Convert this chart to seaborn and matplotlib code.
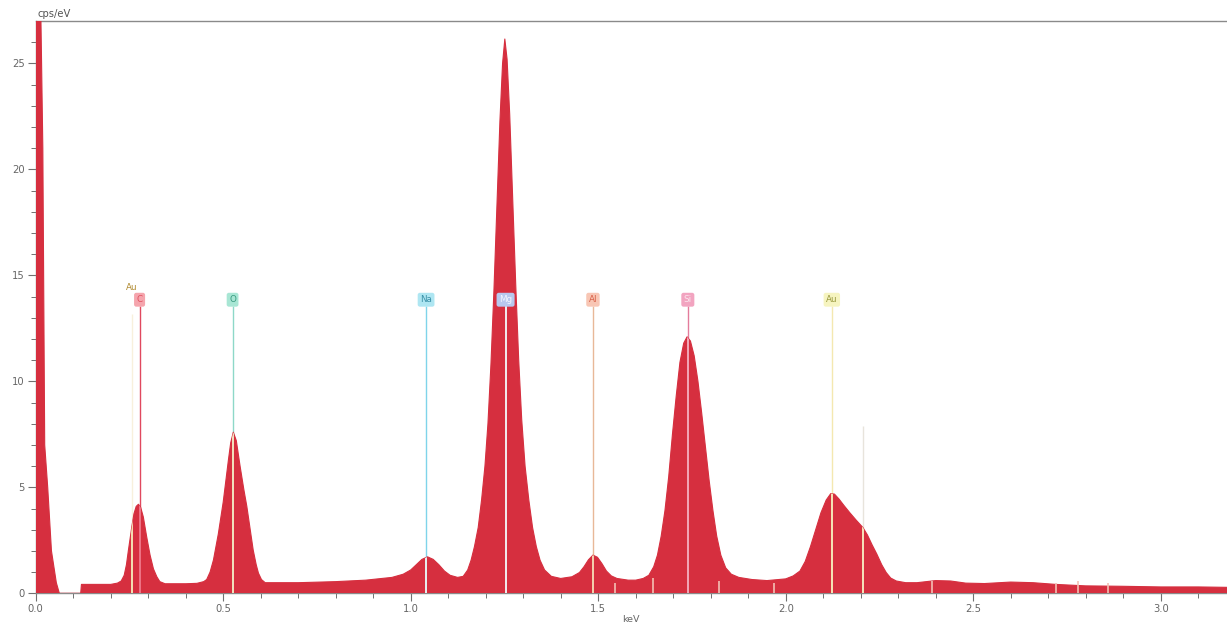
import numpy as np
import pandas as pd
import matplotlib
matplotlib.use("Agg")
import matplotlib.pyplot as plt
import seaborn as sns

# EDS spectrum: energy (keV) and intensity (cps/eV)
energy_kev = [
    # zero (noise) peak and low-energy cut-off
    0.000, 0.005, 0.014, 0.019, 0.024, 0.032, 0.042, 0.055, 0.063, 0.120,
    # C K
    0.122, 0.150, 0.200, 0.218, 0.228, 0.236, 0.242, 0.247, 0.252, 0.256,
    0.262, 0.268, 0.274, 0.280, 0.287, 0.296, 0.305, 0.314, 0.323, 0.331,
    0.345, 0.400,
    # O K
    0.430, 0.448, 0.456, 0.465, 0.474, 0.487, 0.500, 0.507, 0.514, 0.520,
    0.527, 0.535, 0.545, 0.555, 0.563, 0.572, 0.580, 0.588, 0.594, 0.602,
    0.612, 0.640, 0.700, 0.800, 0.880,
    # Na K
    0.950, 0.980, 1.000, 1.015, 1.030, 1.045, 1.060, 1.075, 1.090, 1.105,
    1.125,
    # Mg K
    1.140, 1.152, 1.161, 1.170, 1.180, 1.189, 1.198, 1.206, 1.214, 1.222,
    1.230, 1.238, 1.245, 1.251, 1.257, 1.264, 1.272, 1.280, 1.288, 1.296,
    1.305, 1.315, 1.325, 1.335, 1.345, 1.357, 1.375, 1.400,
    # Al K
    1.430, 1.450, 1.462, 1.474, 1.486, 1.498, 1.510, 1.522, 1.535, 1.550,
    1.580,
    # Si K
    1.600, 1.620, 1.635, 1.648, 1.658, 1.668, 1.678, 1.688, 1.698, 1.708,
    1.718, 1.728, 1.737, 1.746, 1.756, 1.766, 1.776, 1.786, 1.796, 1.806,
    1.816, 1.827, 1.840, 1.855, 1.875, 1.910,
    # Au M
    1.950, 2.000, 2.020, 2.038, 2.052, 2.066, 2.080, 2.094, 2.108, 2.120,
    2.130, 2.142, 2.155, 2.171, 2.188, 2.206, 2.218, 2.230, 2.243, 2.256,
    2.268, 2.280, 2.295, 2.320,
    # high-energy background
    2.350, 2.400, 2.440, 2.480, 2.530, 2.600, 2.660, 2.720, 2.800, 2.900,
    3.000, 3.100, 3.180,
]
counts_cps = [
    40.0, 40.0, 27.0, 21.0, 7.0, 5.0, 2.0, 0.5, 0.0, 0.0,
    0.42, 0.42, 0.42, 0.48, 0.58, 0.85, 1.35, 2.00, 2.60, 3.10,
    3.75, 4.10, 4.20, 4.05, 3.60, 2.66, 1.80, 1.15, 0.78, 0.55,
    0.45, 0.45,
    0.47, 0.55, 0.65, 1.00, 1.57, 2.80, 4.30, 5.30, 6.30, 7.10,
    7.60, 7.20, 6.00, 4.90, 4.10, 3.00, 2.04, 1.35, 0.95, 0.65,
    0.50, 0.50, 0.50, 0.55, 0.62,
    0.75, 0.90, 1.10, 1.35, 1.60, 1.72, 1.60, 1.35, 1.05, 0.85,
    0.75,
    0.80, 1.10, 1.56, 2.20, 3.10, 4.40, 6.00, 8.00, 10.8, 14.3,
    18.3, 22.3, 25.0, 26.15, 25.2, 22.6, 18.6, 14.6, 11.0, 8.20,
    6.00, 4.40, 3.10, 2.20, 1.56, 1.10, 0.80, 0.70,
    0.78, 0.98, 1.25, 1.58, 1.80, 1.70, 1.40, 1.05, 0.82, 0.70,
    0.62,
    0.62, 0.70, 0.85, 1.25, 1.80, 2.70, 3.90, 5.50, 7.50, 9.30,
    10.9, 11.8, 12.1, 11.9, 11.2, 10.0, 8.50, 6.90, 5.30, 3.90,
    2.70, 1.80, 1.20, 0.90, 0.75, 0.65,
    0.60, 0.68, 0.82, 1.05, 1.50, 2.20, 3.00, 3.80, 4.40, 4.70,
    4.68, 4.45, 4.15, 3.80, 3.45, 3.10, 2.75, 2.30, 1.85, 1.35,
    0.98, 0.72, 0.58, 0.50,
    0.50, 0.60, 0.58, 0.48, 0.46, 0.53, 0.50, 0.42, 0.35, 0.33,
    0.30, 0.30, 0.28,
]

# Identified element lines
line_labels = ["Au", "C", "O", "Na", "Mg", "Al", "Si", "Au"]
line_energies = [0.257, 0.277, 0.525, 1.041, 1.253, 1.486, 1.739, 2.123]
# Unlabelled Au M-beta line and its marker height
extra_line_energy = [2.205]
extra_line_height = [7.9]

# Small escape / sum-peak markers near the baseline
minor_marker_energies = [1.545, 1.646, 1.823, 1.968, 2.39, 2.72, 2.78, 2.86]
minor_marker_heights = [0.5, 0.7, 0.6, 0.5, 0.6, 0.5, 0.6, 0.5]

x_ticks = [0.0, 0.5, 1.0, 1.5, 2.0, 2.5, 3.0]
x_tick_labels = ["0.0", "0.5", "1.0", "1.5", "2.0", "2.5", "3.0"]
y_ticks = [0, 5, 10, 15, 20, 25]

# label styles: (box colour, text colour, line colour, colour inside the peak)
styles = {
    0: ("#fff7dc", "#b08a30", "#f8f0dc", "#f4e2b4"),
    1: ("#f5a5ad", "#e0505f", "#e0485e", "#ee7486"),
    2: ("#a8e6d4", "#3a9a80", "#8ed8c8", "#f2e4c0"),
    3: ("#aee6f2", "#3a90a8", "#7fd4ea", "#e8f2f2"),
    4: ("#b8c8ee", "#f4f6ff", "#d6d6e4", "#f2eef0"),
    5: ("#f8c6b4", "#d86048", "#e8b898", "#f4d2b0"),
    6: ("#f2a4c0", "#fbe6ee", "#e47c9c", "#f2a8b8"),
    7: ("#f6f4c0", "#9a9a40", "#f4e8b0", "#f6e6b8"),
}

sns.set_theme(style="ticks")
plt.rcParams["font.family"] = ["DejaVu Sans"]

fill_color = "#d62f3f"
axis_gray = "#707070"

fig = plt.figure(figsize=(12.27, 6.22), dpi=100)
ax = fig.add_axes([35.7 / 1227, 28.7 / 622, (1227 - 35.7) / 1227, 572.3 / 622])

df = pd.DataFrame({"keV": energy_kev, "cps": counts_cps})
sns.lineplot(data=df, x="keV", y="cps", ax=ax, color=fill_color,
             linewidth=0.8, sort=False, estimator=None, zorder=3)
poly = ax.fill_between(df["keV"], 0, df["cps"], color=fill_color,
                       linewidth=0, zorder=3)
clip_path = poly.get_paths()[0]

label_y = 13.85
line_top = 13.55

for i, (lab, e) in enumerate(zip(line_labels, line_energies)):
    box_c, txt_c, line_c, inner_c = styles[i]
    if i == 0:
        # Au M-zeta: text only, sitting just above the C label
        ax.text(e, 14.45, lab, ha="center", va="center", fontsize=6.3,
                color=txt_c, zorder=6)
        ax.vlines(e, 0, 13.2, color=line_c, linewidth=1.0, zorder=2)
        inner = ax.vlines(e, 0, 13.2, color=inner_c, linewidth=1.4, zorder=4)
        inner.set_clip_path(clip_path, poly.get_transform())
        continue
    ax.vlines(e, 0, line_top, color=line_c, linewidth=1.0, zorder=2)
    inner = ax.vlines(e, 0, line_top, color=inner_c, linewidth=1.4, zorder=4)
    inner.set_clip_path(clip_path, poly.get_transform())
    ax.text(e, label_y, lab, ha="center", va="center", fontsize=6.3,
            color=txt_c, zorder=6,
            bbox=dict(boxstyle="round,pad=0.28,rounding_size=0.25",
                      facecolor=box_c, edgecolor="none"))

for e, h in zip(extra_line_energy, extra_line_height):
    ax.vlines(e, 0, h, color="#e8e4dc", linewidth=1.0, zorder=2)
    inner = ax.vlines(e, 0, h, color="#f6e4bc", linewidth=1.4, zorder=4)
    inner.set_clip_path(clip_path, poly.get_transform())

ax.vlines(minor_marker_energies, 0, minor_marker_heights, color="#f3c0b4",
          linewidth=1.2, zorder=4)

ax.set_xlim(0, 1191.3 / 375.0)
ax.set_ylim(0, 27.0)

ax.set_xticks(x_ticks)
ax.set_xticklabels(x_tick_labels)
ax.set_yticks(y_ticks)
ax.set_xticks(np.arange(0, 3.2, 0.1), minor=True)
ax.set_yticks(np.arange(0, 27, 1), minor=True)

ax.tick_params(axis="both", which="major", length=6, width=0.8,
               color=axis_gray, labelcolor="#666666", labelsize=7.2, pad=2)
ax.tick_params(axis="both", which="minor", length=3.5, width=0.7,
               color=axis_gray)

for side in ("left", "bottom", "top"):
    ax.spines[side].set_color("#8a8a8a")
    ax.spines[side].set_linewidth(1.0)
ax.spines["right"].set_visible(False)

ax.set_xlabel("keV", fontsize=6.8, color="#666666", labelpad=0.5)
ax.set_ylabel("")
ax.text(0.0015, 1.004, "cps/eV", transform=ax.transAxes, ha="left",
        va="bottom", fontsize=7.2, color="#555555")

ax.set_facecolor("white")
fig.patch.set_facecolor("white")

fig.savefig("out.png", dpi=100, facecolor="white")
